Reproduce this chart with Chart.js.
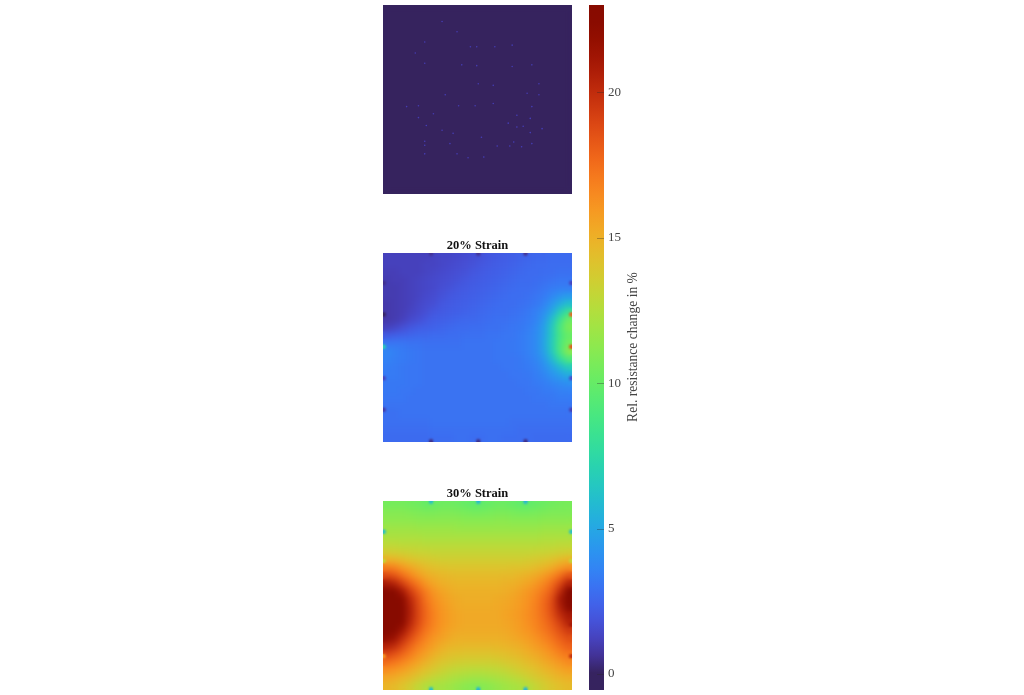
<!DOCTYPE html>
<html>
<head>
<meta charset="utf-8">
<title>Rel. resistance change</title>
<script src="https://cdn.jsdelivr.net/npm/chart.js@4/dist/chart.umd.min.js"></script>
<style>
  body { margin: 0; background: #fff; }
  canvas { position: absolute; }
</style>
</head>
<body>
<canvas id="panel0" width="189" height="189" style="left:383px;top:5px"></canvas>
<canvas id="panel20" width="189" height="207" style="left:383px;top:235px"></canvas>
<canvas id="panel30" width="189" height="207" style="left:383px;top:483px"></canvas>
<canvas id="colorbar" width="90" height="685" style="left:589px;top:5px"></canvas>
<script>
// Colour bar range and labels
const colorMin = -0.55;
const colorMax = 23;
const colorTicks = [0, 5, 10, 15, 20];
const colorTitle = 'Rel. resistance change in %';

// 0% strain, nearly flat
const strain0 = [
  [0,0,0,0,0,0,0,0,0,0,0,0,0,0,0,0,0,0,0,0,0,0,0,0],
  [0,0,0,0,0,0,0,0,0,0,0,0,0,0,0,0,0,0,0,0,0,0,0,0],
  [0,0,0,0,0,0,0,0,0,0,0,0,0,0,0,0,0,0,0,0,0,0,0,0],
  [0,0,0,0,0,0,0,0,0,0,0,0,0,0,0,0,0,0,0,0,0,0,0,0],
  [0,0,0,0,0,0,0,0,0,0,0,0,0,0,0,0,0,0,0,0,0,0,0,0],
  [0,0,0,0,0,0,0,0,0,0,0,0,0,0,0,0,0,0,0,0,0,0,0,0],
  [0,0,0,0,0,0,0,0,0,0,0,0,0,0,0,0,0,0,0,0,0,0,0,0],
  [0,0,0,0,0,0,0,0,0,0,0,0,0,0,0,0,0,0,0,0,0,0,0,0],
  [0,0,0,0,0,0,0,0,0,0,0,0,0,0,0,0,0,0,0,0,0,0,0,0],
  [0,0,0,0,0,0,0,0,0,0,0,0,0,0,0,0,0,0,0,0,0,0,0,0],
  [0,0,0,0,0,0,0,0,0,0,0,0,0,0,0,0,0,0,0,0,0,0,0,0],
  [0,0,0,0,0,0,0,0,0,0,0,0,0,0,0,0,0,0,0,0,0,0,0,0],
  [0,0,0,0,0,0,0,0,0,0,0,0,0,0,0,0,0,0,0,0,0,0,0,0],
  [0,0,0,0,0,0,0,0,0,0,0,0,0,0,0,0,0,0,0,0,0,0,0,0],
  [0,0,0,0,0,0,0,0,0,0,0,0,0,0,0,0,0,0,0,0,0,0,0,0],
  [0,0,0,0,0,0,0,0,0,0,0,0,0,0,0,0,0,0,0,0,0,0,0,0],
  [0,0,0,0,0,0,0,0,0,0,0,0,0,0,0,0,0,0,0,0,0,0,0,0],
  [0,0,0,0,0,0,0,0,0,0,0,0,0,0,0,0,0,0,0,0,0,0,0,0],
  [0,0,0,0,0,0,0,0,0,0,0,0,0,0,0,0,0,0,0,0,0,0,0,0],
  [0,0,0,0,0,0,0,0,0,0,0,0,0,0,0,0,0,0,0,0,0,0,0,0],
  [0,0,0,0,0,0,0,0,0,0,0,0,0,0,0,0,0,0,0,0,0,0,0,0],
  [0,0,0,0,0,0,0,0,0,0,0,0,0,0,0,0,0,0,0,0,0,0,0,0],
  [0,0,0,0,0,0,0,0,0,0,0,0,0,0,0,0,0,0,0,0,0,0,0,0],
  [0,0,0,0,0,0,0,0,0,0,0,0,0,0,0,0,0,0,0,0,0,0,0,0]
];
const specksX = [7,8.9,4.8,15.9,11.4,10.6,3.6,13.7,4.8,9.5,11.4,15.9,18.4,11.6,13.5,19.3,7.4,17.8,19.3,2.5,4,9.1,11.2,13.5,18.4,16.5,5.9,18.2,4,15.4,5,16.5,17.3,19.7,7,8.4,18.2,4.8,8,12,16.1,14,15.6,4.8,18.4,4.8,8.9,12.3,10.3,17.1];
const specksY = [1.6,2.9,4.2,4.6,4.8,4.8,5.6,4.8,6.9,7.1,7.2,7.3,7.1,9.5,9.7,9.5,10.9,10.7,10.9,12.4,12.3,12.3,12.3,12,12.4,13.5,13.3,13.9,13.8,14.5,14.8,15,14.9,15.2,15.4,15.8,15.7,16.8,17.1,16.3,16.9,17.4,17.4,17.3,17.1,18.4,18.4,18.8,18.9,17.5];
const specksV = [1,1,1,1,1,1,1,1,1,1,1,1,1,1,1,1,1.1,1,1,1,1,1,1,1,1.1,1.1,1,1.1,1,1.1,1.1,1.1,1.1,1.1,1,1.1,1.1,1.1,1,1.1,1.1,1.1,1.1,1.1,1.1,1.1,1,1.2,1,1.1];

// 20% strain
const strain20 = [
  [1.2,1.2,1.2,1.2,1.2,1.2,1.3,1.4,1.4,1.5,1.6,1.7,1.8,2,2.1,2.2,2.3,2.4,2.5,2.6,2.6,2.7,2.7,2.7],
  [1.2,1.2,1.2,1.2,1.2,1.3,1.3,1.4,1.5,1.6,1.7,1.8,2,2.1,2.2,2.3,2.4,2.5,2.6,2.7,2.7,2.8,2.8,2.8],
  [1.1,1.1,1.2,1.2,1.2,1.3,1.4,1.5,1.6,1.7,1.8,2,2.1,2.2,2.3,2.4,2.5,2.6,2.7,2.7,2.8,2.8,2.9,2.9],
  [1,1.1,1.1,1.2,1.3,1.4,1.5,1.6,1.7,1.8,2,2.1,2.2,2.3,2.4,2.5,2.6,2.7,2.7,2.8,2.9,3,3.1,3.1],
  [1,1,1.1,1.2,1.3,1.4,1.5,1.7,1.8,2,2.1,2.2,2.3,2.4,2.5,2.6,2.7,2.8,2.8,2.9,3.1,3.3,3.4,3.4],
  [1,1,1.1,1.2,1.3,1.5,1.6,1.8,2,2.1,2.2,2.3,2.4,2.5,2.6,2.7,2.8,2.8,2.9,3.1,3.3,3.7,4.2,4.5],
  [.9,1,1.1,1.2,1.4,1.6,1.7,2,2.1,2.2,2.3,2.4,2.5,2.6,2.7,2.8,2.8,2.9,3,3.2,3.6,4.3,5.2,6],
  [.9,1,1.1,1.3,1.5,1.7,2,2.1,2.2,2.3,2.4,2.5,2.6,2.7,2.8,2.8,2.9,3,3.2,3.5,4,5,6.7,8.2],
  [.9,1,1.2,1.5,1.7,2,2.2,2.3,2.4,2.5,2.6,2.6,2.7,2.8,2.9,2.9,3,3.1,3.3,3.6,4.4,6,8.2,10.2],
  [1.2,1.4,1.7,2,2.2,2.3,2.4,2.5,2.6,2.7,2.7,2.8,2.8,2.9,2.9,3,3.1,3.2,3.4,3.8,4.7,6.5,9,10.7],
  [2.1,2.3,2.4,2.5,2.6,2.6,2.7,2.7,2.8,2.8,2.9,2.9,2.9,3,3,3.1,3.1,3.3,3.5,3.9,4.8,6.6,8.8,10],
  [3.1,3.1,3.1,3,3,2.9,2.9,2.9,2.9,2.9,3,3,3,3,3.1,3.1,3.2,3.3,3.5,3.9,4.9,6.7,9,10.4],
  [3.7,3.5,3.3,3.2,3.1,3,3,3,3,3,3,3,3,3,3.1,3.1,3.2,3.3,3.5,3.9,4.8,6.6,9,11.2],
  [3.6,3.4,3.3,3.2,3.1,3,3,3,3,3,3,3,3,3,3.1,3.1,3.1,3.2,3.4,3.7,4.4,5.8,7.7,9.2],
  [3.4,3.3,3.2,3.1,3.1,3,3,3,3,3,3,3,3,3,3,3.1,3.1,3.2,3.3,3.5,4,4.8,5.8,6.8],
  [3.3,3.3,3.2,3.1,3.1,3,3,3,3,3,3,3,3,3,3,3,3.1,3.1,3.2,3.4,3.7,4.2,4.7,5.2],
  [3.2,3.2,3.2,3.1,3.1,3,3,3,3,3,3,3,3,3,3,3,3,3.1,3.1,3.3,3.4,3.7,3.9,4.1],
  [3.2,3.2,3.1,3.1,3,3,3,3,3,3,3,3,3,3,3,3,3,3,3.1,3.1,3.3,3.3,3.5,3.6],
  [3.1,3.1,3.1,3,3,3,3,3,3,3,3,3,3,3,3,3,3,3,3,3.1,3.1,3.2,3.3,3.3],
  [3,3,3,3,3,3,3,3,3,3,3,3,3,3,3,3,3,3,3,3,3,3.1,3.1,3.1],
  [2.9,2.9,3,3,3,3,3,3,3,3,3,3,3,3,3,3,3,3,3,3,3,3,3,3],
  [2.9,2.9,2.9,2.9,2.9,2.9,3,3,3,3,3,3,3,3,3,3,2.9,2.9,2.9,2.9,2.9,2.9,2.9,2.9],
  [2.8,2.8,2.8,2.8,2.8,2.8,2.9,2.9,2.9,2.9,2.9,2.9,2.9,2.9,2.9,2.9,2.9,2.8,2.8,2.8,2.8,2.8,2.8,2.8],
  [2.7,2.7,2.7,2.7,2.7,2.7,2.8,2.8,2.8,2.9,2.9,2.8,2.8,2.9,2.9,2.8,2.8,2.8,2.8,2.7,2.7,2.7,2.7,2.7]
];
const contacts20X = [5.6,11.6,17.6,5.6,11.6,17.6,-0.4,-0.4,-0.4,-0.4,-0.4,23.4,23.4,23.4,23.4,23.4];
const contacts20Y = [-0.4,-0.4,-0.4,23.4,23.4,23.4,3.3,7.3,11.4,15.4,19.4,3.3,7.3,11.4,15.4,19.4];
const contacts20V = [0.6,0.6,0.6,0.4,0.4,0.4,0.5,-0.5,7,1.2,0.8,1.2,18,18.5,1.5,1];

// 30% strain
const strain30 = [
  [10.5,10.5,10.5,10.4,10.3,10,10.1,10.3,10.3,10.2,10,9.8,9.8,10,10.2,10.2,10,9.8,9.8,10,10.2,10.4,10.5,10.6],
  [11,11,11,10.9,10.8,10.7,10.7,10.8,10.8,10.7,10.6,10.5,10.5,10.6,10.7,10.7,10.6,10.5,10.5,10.6,10.7,10.8,10.8,10.8],
  [11.3,11.3,11.3,11.3,11.2,11.2,11.2,11.2,11.2,11.2,11.1,11.1,11.1,11.1,11.2,11.2,11.1,11.1,11.1,11.1,11.2,11.2,11.2,11.2],
  [11.8,11.8,11.8,11.8,11.7,11.7,11.7,11.7,11.7,11.6,11.6,11.6,11.6,11.6,11.6,11.6,11.6,11.6,11.6,11.6,11.7,11.7,11.7,11.7],
  [12.2,12.2,12.2,12.2,12.2,12.1,12.1,12.1,12.1,12.1,12.1,12.1,12.1,12.1,12.1,12.1,12.1,12.1,12.1,12.1,12.2,12.2,12.2,12.2],
  [12.8,12.8,12.7,12.7,12.7,12.6,12.6,12.6,12.6,12.6,12.6,12.6,12.6,12.6,12.6,12.6,12.6,12.6,12.6,12.6,12.7,12.7,12.8,12.8],
  [13.6,13.5,13.4,13.3,13.2,13.2,13.1,13.1,13.1,13.1,13.1,13.1,13.1,13.1,13.1,13.1,13.1,13.1,13.1,13.2,13.2,13.3,13.4,13.5],
  [15,14.8,14.5,14.2,14,13.8,13.7,13.6,13.6,13.6,13.6,13.6,13.6,13.6,13.6,13.6,13.6,13.6,13.7,13.8,14,14.2,14.5,14.8],
  [17,16.7,16,15.4,14.9,14.5,14.3,14.2,14.1,14.1,14.1,14.1,14.1,14.1,14.1,14.1,14.2,14.2,14.3,14.5,14.8,15.2,15.8,16.3],
  [18.8,18.4,17.5,16.6,15.8,15.2,14.9,14.7,14.6,14.5,14.5,14.5,14.5,14.5,14.5,14.6,14.6,14.8,15,15.3,15.8,16.5,17.4,18.5],
  [21,20.4,19.2,18,17,16,15.4,15.1,14.9,14.8,14.8,14.8,14.8,14.8,14.8,14.9,15,15.2,15.5,16,16.6,17.5,18.8,20.5],
  [23,22.6,21,19.3,18,16.9,16,15.5,15.2,15,15,15,15,15,15,15.1,15.3,15.6,16,16.5,17.2,18.2,20,23],
  [23,23,22.4,20.2,18.7,17.3,16.4,15.8,15.4,15.2,15.1,15.1,15.1,15.1,15.2,15.3,15.5,15.8,16.2,16.8,17.6,18.7,21,23],
  [23,23,22.8,20.6,18.9,17.6,16.6,16,15.6,15.3,15.2,15.2,15.2,15.2,15.3,15.4,15.6,15.9,16.3,16.9,17.7,18.8,20.6,22.5],
  [23,23,22.8,20.6,19,17.7,16.8,16.1,15.7,15.4,15.3,15.3,15.3,15.3,15.3,15.5,15.7,16,16.4,16.9,17.6,18.6,20,21],
  [23,23,22.4,20.3,18.8,17.6,16.7,16.1,15.7,15.4,15.3,15.3,15.3,15.3,15.3,15.4,15.6,15.9,16.3,16.8,17.4,18.2,19.2,20.5],
  [23,22.7,21.2,19.6,18.3,17.2,16.5,15.9,15.5,15.3,15.2,15.2,15.2,15.2,15.2,15.3,15.5,15.8,16.1,16.6,17.1,17.8,18.6,19.4],
  [22,21.4,20,18.7,17.6,16.7,16,15.6,15.2,15,15,15,15,15,15,15.1,15.3,15.5,15.8,16.2,16.7,17.3,18,18.6],
  [20.5,20,18.9,17.8,16.9,16.2,15.6,15.1,14.8,14.7,14.6,14.6,14.6,14.6,14.7,14.8,14.9,15.1,15.4,15.8,16.2,16.8,17.4,18],
  [19,18.5,17.8,17,16.2,15.6,15,14.6,14.3,14.2,14.1,14.1,14.1,14.1,14.2,14.3,14.5,14.7,15,15.3,15.7,16.2,16.8,17.2],
  [17.6,17.2,16.7,16.1,15.5,14.9,14.4,14,13.8,13.6,13.5,13.5,13.5,13.5,13.6,13.8,14,14.2,14.5,14.8,15.2,15.6,16,16.5],
  [16.4,16.1,15.7,15.2,14.7,14.2,13.8,13.4,13.1,12.9,12.8,12.7,12.7,12.8,12.9,13.1,13.4,13.7,14,14.3,14.7,15,15.4,15.7],
  [15.4,15.2,14.8,14.4,13.9,13.4,13,12.7,12.4,12.2,12,11.9,11.9,12,12.2,12.4,12.7,13,13.4,13.8,14.1,14.5,14.8,15],
  [14.8,14.5,14.1,13.6,13,12.4,12.1,12,11.8,11.5,11.2,11,11,11.2,11.5,11.8,12,12.2,12.6,13.1,13.6,14,14.3,14.5]
];
const contacts30X = [5.6,11.6,17.6,5.6,11.6,17.6,-0.4,-0.4,-0.4,-0.4,-0.4,23.4,23.4,23.4,23.4,23.4];
const contacts30Y = [-0.4,-0.4,-0.4,23.4,23.4,23.4,3.4,7.1,11.2,15.2,19.2,3.4,7.1,11.2,15.2,19.2];
const contacts30V = [6,5.5,5.5,6,5.5,5.5,6,13,23,23,16,6,13,23,21,20];

// turbo colormap, d3 polynomial, toned down a little like the scanned figure
// the polynomial goes too black near 0 so the low end is held
function turbo(t) {
  t = Math.max(0.024, Math.min(1, t));
  const r = 34.61 + t * (1172.33 - t * (10793.56 - t * (33300.12 - t * (38394.49 - t * 14825.05))));
  const g = 23.31 + t * (557.33 + t * (1225.33 - t * (3574.96 - t * (1073.77 + t * 707.56))));
  const b = 27.2 + t * (3211.1 - t * (15327.97 - t * (27814 - t * (22569.18 - t * 6838.66))));
  return `rgb(${Math.round(r * 0.94)},${Math.round(g * 0.93)},${Math.round(b * 0.98)})`;
}

function valueColor(v) {
  return turbo((v - colorMin) / (colorMax - colorMin));
}

// soften the cell grid, the source figure is an interpolated map
function softenArea(chart, px) {
  const a = chart.chartArea;
  const ctx = chart.ctx;
  ctx.save();
  ctx.beginPath();
  ctx.rect(a.left, a.top, a.right - a.left, a.bottom - a.top);
  ctx.clip();
  ctx.filter = `blur(${px}px)`;
  ctx.drawImage(chart.canvas, a.left, a.top, a.right - a.left, a.bottom - a.top, a.left, a.top, a.right - a.left, a.bottom - a.top);
  ctx.restore();
}

function softenPlugin(finalBlur) {
  return {
    id: 'soften',
    afterDatasetDraw(chart, args) {
      if (args.index === 0) softenArea(chart, 3);
    },
    afterDatasetsDraw(chart) {
      softenArea(chart, finalBlur);
    }
  };
}

function drawPanel(id, rows, extraX, extraY, extraV, extraRadius, finalBlur, titleText) {
  const cells = [];
  rows.forEach((row, r) => row.forEach((v, c) => cells.push({ x: c, y: r, v: v })));
  const extras = extraX.map((x, i) => ({ x: x, y: extraY[i], v: extraV[i] }));
  const pointColor = ctx => valueColor(ctx.raw.v);

  new Chart(document.getElementById(id), {
    type: 'scatter',
    data: {
      datasets: [{
        data: cells,
        order: 2,
        clip: 0,
        pointStyle: 'rect',
        pointRadius: 6.1,
        pointBorderWidth: 0,
        pointBackgroundColor: pointColor
      }, {
        data: extras,
        order: 1,
        clip: 0,
        pointRadius: extraRadius,
        pointBorderWidth: 0,
        pointBackgroundColor: pointColor
      }]
    },
    options: {
      responsive: false,
      animation: false,
      layout: { padding: 0, autoPadding: false },
      plugins: {
        legend: { display: false },
        tooltip: { enabled: false },
        title: {
          display: !!titleText,
          text: titleText,
          color: '#111',
          font: { family: '"Liberation Serif"', size: 12.5, weight: 'bold', lineHeight: 1 },
          padding: { top: 4.5, bottom: 1 }
        }
      },
      scales: {
        x: { type: 'linear', display: false, min: -0.5, max: 23.5 },
        y: { type: 'linear', display: false, min: -0.5, max: 23.5, reverse: true }
      }
    },
    plugins: [softenPlugin(finalBlur)]
  });
}

function drawColorbar() {
  const barWidth = 15;
  new Chart(document.getElementById('colorbar'), {
    type: 'bar',
    data: {
      labels: [''],
      datasets: [{
        data: [[colorMin, colorMax]],
        barPercentage: 1,
        categoryPercentage: 1,
        backgroundColor(ctx) {
          const chart = ctx.chart;
          if (!chart.chartArea) return '#888';
          const y = chart.scales.y;
          const grad = chart.ctx.createLinearGradient(0, y.getPixelForValue(colorMin), 0, y.getPixelForValue(colorMax));
          for (let i = 0; i <= 40; i++) grad.addColorStop(i / 40, turbo(i / 40));
          return grad;
        }
      }]
    },
    options: {
      responsive: false,
      animation: false,
      layout: { padding: 0, autoPadding: false },
      plugins: { legend: { display: false }, tooltip: { enabled: false } },
      scales: {
        x: { display: false },
        y: {
          position: 'right',
          min: colorMin,
          max: colorMax,
          afterFit(scale) {
            scale.width = 90 - barWidth;
            scale.paddingTop = 0;
            scale.paddingBottom = 0;
          },
          afterBuildTicks(scale) { scale.ticks = colorTicks.map(v => ({ value: v })); },
          grid: { display: false, drawTicks: false },
          border: { display: false },
          ticks: {
            padding: 4,
            color: '#444',
            font: { family: '"Liberation Serif"', size: 13 }
          }
        }
      }
    },
    plugins: [{
      id: 'barExtras',
      afterDraw(chart) {
        const ctx = chart.ctx;
        const a = chart.chartArea;
        const y = chart.scales.y;
        ctx.save();
        ctx.strokeStyle = 'rgba(40,40,40,0.35)';
        colorTicks.forEach(v => {
          const py = Math.round(y.getPixelForValue(v)) + 0.5;
          ctx.beginPath();
          ctx.moveTo(a.right - 7, py);
          ctx.lineTo(a.right, py);
          ctx.stroke();
        });
        // axis label reads bottom to top on the right side
        ctx.translate(44, 342);
        ctx.rotate(-Math.PI / 2);
        ctx.fillStyle = '#444';
        ctx.font = '13.6px "Liberation Serif"';
        ctx.textAlign = 'center';
        ctx.textBaseline = 'middle';
        ctx.fillText(colorTitle, 0, 0);
        ctx.restore();
      }
    }]
  });
}

drawPanel('panel0', strain0, specksX, specksY, specksV, 0.8, 0.4, '');
drawPanel('panel20', strain20, contacts20X, contacts20Y, contacts20V, 2.2, 1, '20% Strain');
drawPanel('panel30', strain30, contacts30X, contacts30Y, contacts30V, 2.2, 1, '30% Strain');
drawColorbar();
</script>
</body>
</html>
